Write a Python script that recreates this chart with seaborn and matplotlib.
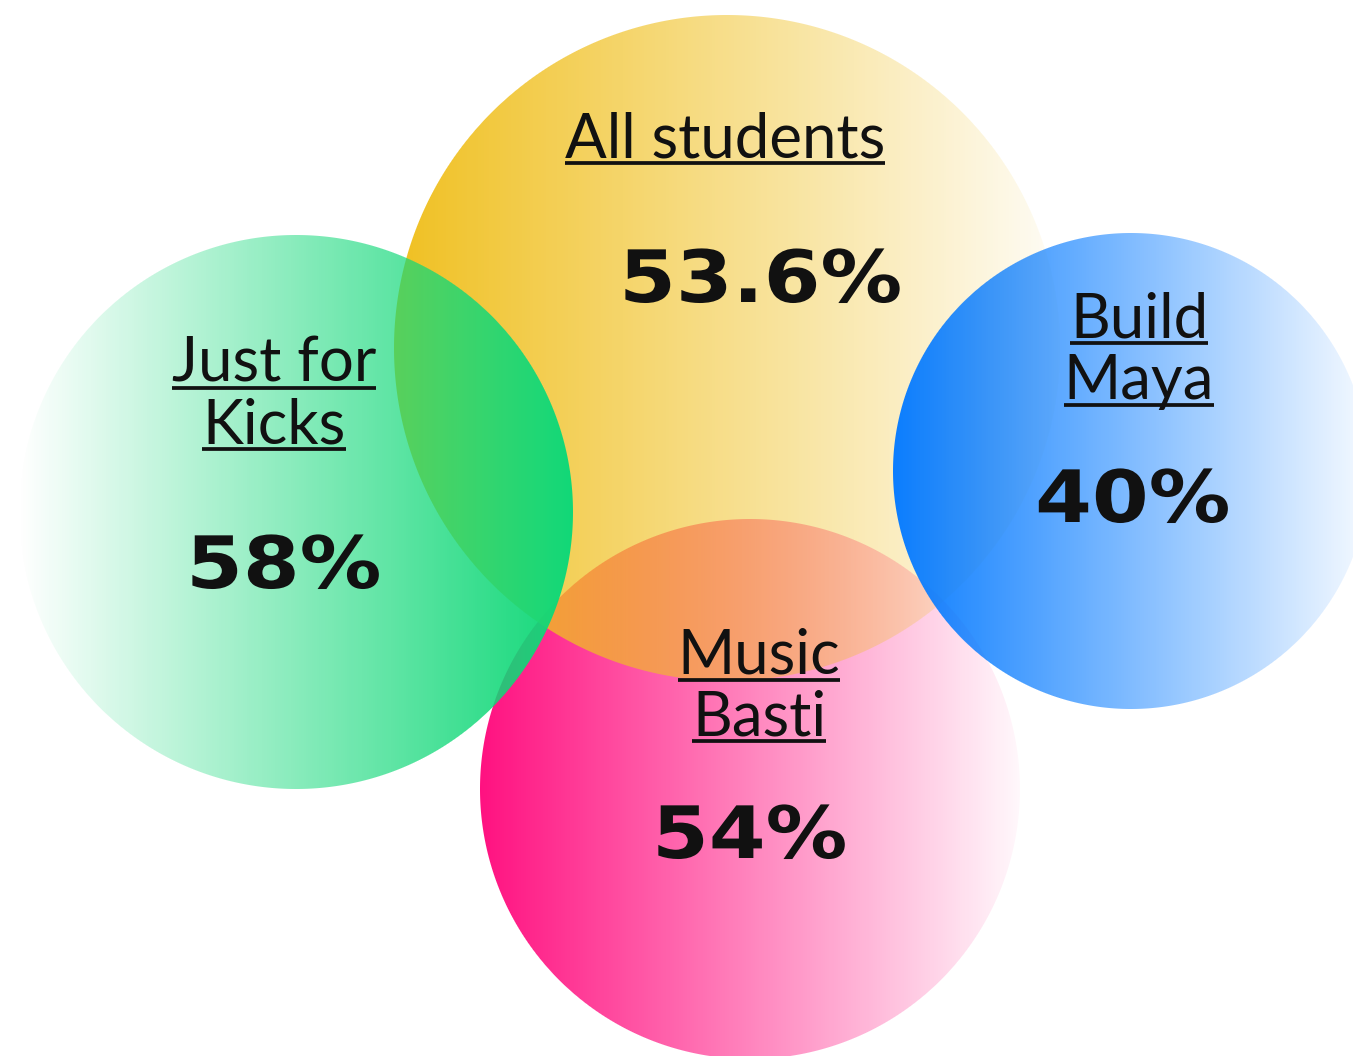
import matplotlib
matplotlib.use("Agg")
import matplotlib.pyplot as plt
import matplotlib.patheffects as pe
import numpy as np
import seaborn as sns
from matplotlib.transforms import Affine2D

# data
groups = ["All students", "Just for Kicks", "Build Maya", "Music Basti"]
shares = [53.6, 58, 40, 54]
label_lines = [["All students"], ["Just for", "Kicks"], ["Build", "Maya"], ["Music", "Basti"]]

# layout, in pixel units of the canvas (y grows downward)
W, H = 1353, 1056
centers = [(727, 348), (296, 512), (1131, 471), (750, 789)]
radii = [333, 277, 238, 270]
hex_colors = ["#F0C020", "#10D878", "#0A7DFF", "#FF1080"]
alpha_ramps = [(1.0, 0.04), (0.0, 1.0), (1.0, 0.04), (1.0, 0.03)]
draw_order = [3, 0, 1, 2]
label_x = [725, 274, 1139, 759]
label_base = [[157], [382, 443], [337, 399], [674, 735]]
value_xy = [(761, 302), (284, 588), (1133, 522), (750, 858)]

sns.set_theme(style="white")
plt.rcParams["font.family"] = ["Lato", "DejaVu Sans"]
palette = sns.color_palette(hex_colors)


class Stretch(pe.AbstractPathEffect):
    """Widen glyphs horizontally around the text centre."""

    def __init__(self, sx):
        super().__init__()
        self.sx = sx

    def draw_path(self, renderer, gc, tpath, affine, rgbFace=None):
        ext = tpath.get_extents(affine)
        cx = (ext.x0 + ext.x1) / 2
        aff = affine + Affine2D().translate(-cx, 0).scale(self.sx, 1).translate(cx, 0)
        renderer.draw_path(gc, tpath, aff, rgbFace)


def disc(cx, cy, r, color, a0, a1):
    x0, x1 = int(np.floor(cx - r)), int(np.ceil(cx + r))
    y0, y1 = int(np.floor(cy - r)), int(np.ceil(cy + r))
    X, Y = np.meshgrid(np.arange(x0, x1) + 0.5, np.arange(y0, y1) + 0.5)
    cover = np.clip(r - np.hypot(X - cx, Y - cy) + 0.5, 0, 1)
    t = np.clip((X - (cx - r)) / (2 * r), 0, 1)
    rgba = np.zeros(X.shape + (4,))
    rgba[..., :3] = color
    rgba[..., 3] = (a0 + (a1 - a0) * t) * cover
    return rgba, (x0, x1, y1, y0)


fig = plt.figure(figsize=(W / 100, H / 100), dpi=100)
ax = fig.add_axes([0, 0, 1, 1])

for z, i in enumerate(draw_order):
    cx, cy = centers[i]
    img, ext = disc(cx, cy, radii[i], palette[i], *alpha_ramps[i])
    ax.imshow(img, extent=ext, interpolation="nearest", aspect="auto", zorder=z + 1)

ink = "#111111"
labels = []
for i, lines in enumerate(label_lines):
    for line, yb in zip(lines, label_base[i]):
        t = ax.text(label_x[i], yb, line, ha="center", va="baseline",
                    fontsize=44.5, color=ink, zorder=10)
        labels.append((t, yb))
    vx, vy = value_xy[i]
    ax.text(vx, vy, f"{shares[i]:g}%", ha="center", va="baseline",
            fontsize=52, fontweight="bold", family="DejaVu Sans", color=ink,
            path_effects=[Stretch(1.13)], zorder=10)

ax.set_xlim(0, W)
ax.set_ylim(H, 0)
ax.axis("off")

# underline every label line
fig.canvas.draw()
inv = ax.transData.inverted()
for t, yb in labels:
    bb = t.get_window_extent()
    xa = inv.transform((bb.x0, bb.y0))[0]
    xb = inv.transform((bb.x1, bb.y0))[0]
    ax.plot([xa, xb], [yb + 5.5, yb + 5.5], color=ink, lw=2.7,
            solid_capstyle="butt", zorder=10)

fig.savefig("out.png", dpi=100)
